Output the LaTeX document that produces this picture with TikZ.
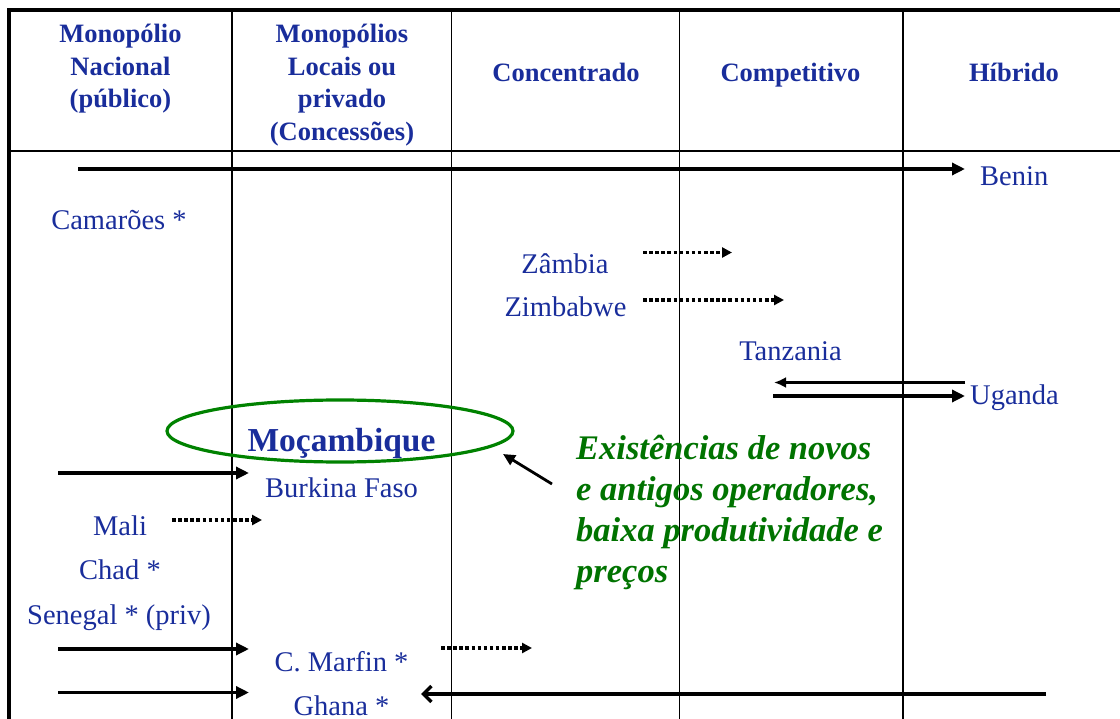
\documentclass[tikz,border=0pt]{standalone}
\usepackage{fontspec}
\setmainfont{Liberation Serif}
\usetikzlibrary{arrows.meta,shapes.geometric}
\definecolor{txtblue}{RGB}{25,45,155}
\definecolor{ovalgreen}{RGB}{0,130,0}
\definecolor{notegreen}{RGB}{0,115,0}
\begin{document}
\begin{tikzpicture}[x=1pt,y=-1pt,
  gridline/.style={line width=1.8pt,black},
  frameline/.style={line width=4pt,black},
  hdr/.style={text=txtblue,font=\fontsize{26.5}{32.5}\selectfont\bfseries,align=center,inner sep=0pt},
  lbl/.style={text=txtblue,font=\fontsize{28.5}{34}\selectfont,inner sep=0pt,anchor=base},
  solidarrow/.style={line width=3.5pt,-{Triangle[length=13pt,width=12pt]}},
  dotarrow/.style={line width=3.5pt,dash pattern=on 3.5pt off 2.6pt,-{Triangle[length=10pt,width=10pt]}},
  backarrow/.style={line width=3.5pt,-{Latex[length=12pt,width=11pt]}},
  barbarrow/.style={line width=3.5pt,-{Straight Barb[length=8pt,width=16pt]}},
  notearrow/.style={line width=2.8pt,-{Triangle[length=12pt,width=11pt]}}
]
\useasboundingbox (0,0) rectangle (1120,719);
% table
\draw[gridline] (9,151) -- (1120,151);
\foreach \xx/\nm in {232/v1,451.5/v2,679.5/v3,903/v4}{
  \draw[gridline] (\xx,10) -- (\xx,719);
}
\draw[frameline] (1120,10) -- (9,10) -- (9,719);

% headers
\node[hdr] (h1) at (120.5,69) {Monopólio\\Nacional\\(público)};
\node[hdr] (h2) at (342,85) {Monopólios\\Locais ou\\privado\\(Concessões)};
\node[hdr,anchor=base] (h3) at (566,82) {Concentrado};
\node[hdr,anchor=base] (h4) at (790.5,82) {Competitivo};
\node[hdr,anchor=base] (h5) at (1014,82) {Híbrido};

% labels
\node[lbl,anchor=base west] (benin) at (980,186) {Benin};
\node[lbl] (camaroes) at (119,230) {Camarões *};
\node[lbl] (zambia) at (565,274) {Zâmbia};
\node[lbl] (zimbabwe) at (565.5,317) {Zimbabwe};
\node[lbl] (tanzania) at (790.5,361) {Tanzania};
\node[lbl,anchor=base west] (uganda) at (970,405) {Uganda};
\node[lbl,font=\fontsize{33.5}{40}\selectfont\bfseries] (mocambique) at (341.5,452) {Moçambique};
\node[lbl] (burkina) at (341.5,497) {Burkina Faso};
\node[lbl] (mali) at (120,535) {Mali};
\node[lbl] (chad) at (120,579) {Chad *};
\node[lbl] (senegal) at (119,624) {Senegal * (priv)};
\node[lbl] (marfin) at (341.5,671) {C. Marfin *};
\node[lbl] (ghana) at (341.5,715) {Ghana *};

% oval and note
\node[ellipse,draw=ovalgreen,line width=3.2pt,minimum width=346pt,minimum height=62pt,inner sep=0pt] (oval) at (340,431) {};
\node[text=notegreen,font=\fontsize{34.5}{41}\selectfont\bfseries\itshape,align=left,inner sep=0pt,anchor=west] (note) at (576,513)
  {Existências de novos\\e antigos operadores,\\baixa produtividade e\\preços};

% arrow end points
\coordinate (beninS) at (78,169);   \coordinate (beninE) at (965,169);
\coordinate (zamS) at (643,252.5);  \coordinate (zamE) at (732,252.5);
\coordinate (zimS) at (643,300);    \coordinate (zimE) at (784,300);
\coordinate (ugaS) at (965,382.5);  \coordinate (ugaE) at (774,382.5);
\coordinate (ugbS) at (773,396);    \coordinate (ugbE) at (965,396);
\coordinate (noteS) at (552,484);   \coordinate (noteE) at (503,454);
\coordinate (burS) at (58,473);     \coordinate (burE) at (249,473);
\coordinate (malS) at (172,520);    \coordinate (malE) at (262,520);
\coordinate (cmaS) at (58,649);     \coordinate (cmaE) at (249,649);
\coordinate (cmbS) at (441,648);    \coordinate (cmbE) at (532,648);
\coordinate (ghaS) at (58,692.5);   \coordinate (ghaE) at (249,692.5);
\coordinate (ghbS) at (1046,694);   \coordinate (ghbE) at (421,694);

\draw[solidarrow] (beninS) -- (beninE);
\draw[dotarrow] (zamS) -- (zamE);
\draw[dotarrow] (zimS) -- (zimE);
\draw[backarrow] (ugaS) -- (ugaE);
\draw[solidarrow] (ugbS) -- (ugbE);
\draw[notearrow] (noteS) -- (noteE);
\draw[solidarrow] (burS) -- (burE);
\draw[dotarrow] (malS) -- (malE);
\draw[solidarrow] (cmaS) -- (cmaE);
\draw[dotarrow] (cmbS) -- (cmbE);
\draw[solidarrow] (ghaS) -- (ghaE);
\draw[barbarrow] (ghbS) -- (ghbE);
\end{tikzpicture}
\end{document}
